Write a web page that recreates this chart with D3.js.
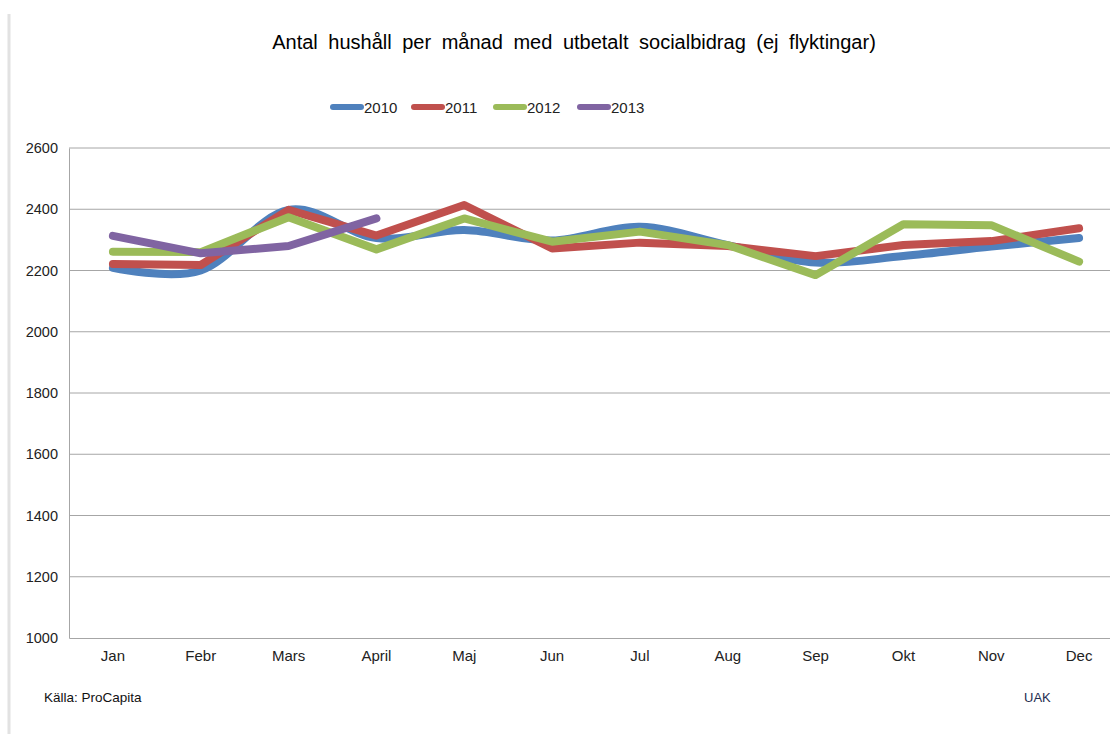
<!DOCTYPE html>
<html>
<head>
<meta charset="utf-8">
<script src="https://cdn.jsdelivr.net/npm/d3@7"></script>
<style>
  body { margin: 0; background: #fff; }
  svg { display: block; font-family: "Liberation Sans", Arial, sans-serif; }
</style>
</head>
<body>
<svg id="chart" width="1110" height="734"></svg>
<script>
const months = ['Jan', 'Febr', 'Mars', 'April', 'Maj', 'Jun', 'Jul', 'Aug', 'Sep', 'Okt', 'Nov', 'Dec'];
const years = ['2010', '2011', '2012', '2013'];
const yTicks = [1000, 1200, 1400, 1600, 1800, 2000, 2200, 2400, 2600];

const v2010 = [2209, 2200, 2398, 2306, 2332, 2298, 2343, 2283, 2226, 2247, 2278, 2306];
const v2011 = [2221, 2218, 2398, 2314, 2414, 2272, 2291, 2280, 2247, 2283, 2296, 2338];
const v2012 = [2261, 2260, 2374, 2269, 2370, 2294, 2327, 2283, 2185, 2351, 2348, 2229];
const v2013 = [2313, 2256, 2280, 2370];

const colors = ['#4f81bd', '#c0504d', '#9bbb59', '#8064a2'];
// only 2010 is drawn smoothed in the original
const smooth = [true, false, false, false];

const svg = d3.select('#chart');

// faint frame line on the left
svg.append('line')
  .attr('x1', 9).attr('x2', 9)
  .attr('y1', 14).attr('y2', 734)
  .attr('stroke', '#e2e2e2').attr('stroke-width', 3);

const margin = {top: 148, left: 69};
const plotW = 1054, plotH = 490;
const g = svg.append('g').attr('transform', `translate(${margin.left},${margin.top})`);

const x = d3.scaleBand().domain(months).range([0, plotW]);
const y = d3.scaleLinear().domain([1000, 2600]).range([plotH, 0]);

// gridlines
g.append('g')
  .selectAll('line')
  .data(yTicks.filter((d) => d > 1000))
  .enter().append('line')
  .attr('x1', 0).attr('x2', plotW)
  .attr('y1', (d) => y(d)).attr('y2', (d) => y(d))
  .attr('stroke', '#a6a6a6').attr('stroke-width', 1);

// y axis
const yAxis = g.append('g')
  .call(d3.axisLeft(y).tickValues(yTicks).tickFormat(d3.format('d')).tickSize(0).tickPadding(11));
yAxis.select('.domain').attr('stroke', '#a6a6a6');
yAxis.selectAll('text').attr('font-size', 14.5).attr('fill', '#222')
  .attr('font-family', '"Liberation Sans", Arial, sans-serif');

// x axis
const xAxis = g.append('g')
  .attr('transform', `translate(0,${plotH})`)
  .call(d3.axisBottom(x).tickSize(0).tickPadding(12));
xAxis.select('.domain').attr('stroke', '#a6a6a6');
xAxis.selectAll('text').attr('font-size', 15).attr('fill', '#222')
  .attr('font-family', '"Liberation Sans", Arial, sans-serif');

const series = [v2010, v2011, v2012, v2013];
series.forEach(function(vals, i) {
  const line = d3.line()
    .x((d, j) => x(months[j]) + x.bandwidth() / 2)
    .y((d) => y(d))
    .curve(smooth[i] ? d3.curveCatmullRom.alpha(0) : d3.curveLinear);
  g.append('path')
    .datum(vals)
    .attr('d', line)
    .attr('fill', 'none')
    .attr('stroke', colors[i])
    .attr('stroke-width', 8)
    .attr('stroke-linecap', 'round')
    .attr('stroke-linejoin', 'round');
});

// title
svg.append('text')
  .attr('x', 574).attr('y', 49)
  .attr('text-anchor', 'middle')
  .attr('font-size', 20)
  .attr('word-spacing', 5)
  .attr('fill', '#000')
  .text('Antal hushåll per månad med utbetalt socialbidrag (ej flyktingar)');

// legend
const legX = [330, 411, 493, 577];
years.forEach(function(yr, i) {
  const lg = svg.append('g').attr('transform', `translate(${legX[i]},107)`);
  lg.append('line')
    .attr('x1', 3).attr('x2', 31)
    .attr('stroke', colors[i]).attr('stroke-width', 6)
    .attr('stroke-linecap', 'round');
  lg.append('text')
    .attr('x', 34).attr('y', 5.5)
    .attr('font-size', 15).attr('fill', '#222')
    .text(yr);
});

// footer
svg.append('text')
  .attr('x', 44).attr('y', 702)
  .attr('font-size', 13.5).attr('fill', '#111')
  .text('Källa: ProCapita');
svg.append('text')
  .attr('x', 1024).attr('y', 702)
  .attr('font-size', 13).attr('fill', '#1f2d4f')
  .text('UAK');
</script>
</body>
</html>
